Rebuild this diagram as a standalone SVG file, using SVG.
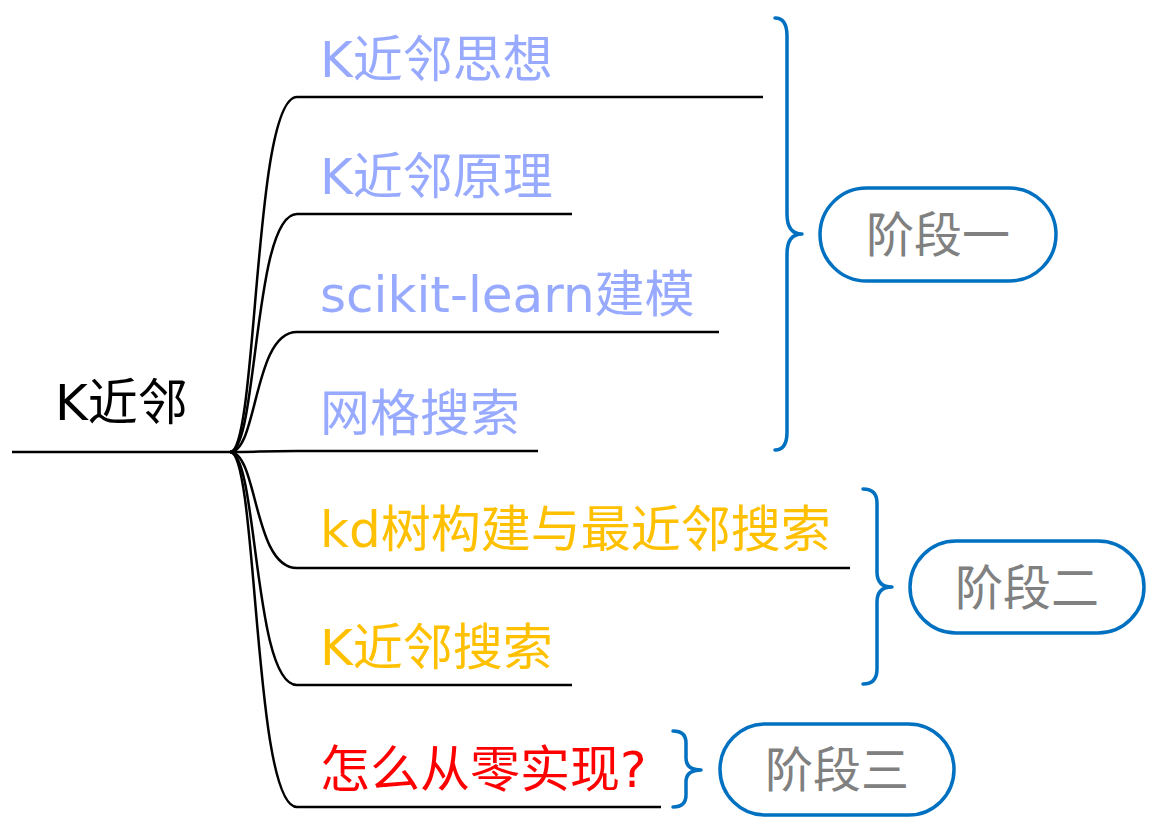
<svg xmlns="http://www.w3.org/2000/svg" width="1156" height="830" viewBox="0 0 1156 830">
<style>
.t{font-family:"DejaVu Sans","Noto Sans CJK SC",sans-serif;font-size:50px}
.blue{fill:#97AAFF}
.yel{fill:#FFC000}
.red{fill:#FF0000}
.root{fill:#000}
.br{fill:none;stroke:#000;stroke-width:2.5}
.brace{fill:none;stroke:#0070C0;stroke-width:3.5;stroke-linecap:round;stroke-linejoin:round}
.pill{fill:#fff;stroke:#0070C0;stroke-width:3.5}
.pt{font-family:"Noto Sans CJK SC",sans-serif;font-size:48px;fill:#808080;text-anchor:middle}
</style>
<rect width="1156" height="830" fill="#fff"/>
<g id="connectors">
<path class="br" d="M12,452 L230,452"/>
<path class="br" d="M230,452 C258,452 253,97 297,97 L763,97"/>
<path class="br" d="M230,452 C258,452 253,214 297,214 L572,214"/>
<path class="br" d="M230,452 C258,452 253,332 297,332 L719,332"/>
<path class="br" d="M230,452 C258,452 262,451 297,451 L538,451"/>
<path class="br" d="M230,452 C258,452 253,568 297,568 L850,568"/>
<path class="br" d="M230,452 C258,452 253,685 297,685 L572,685"/>
<path class="br" d="M230,452 C258,452 253,807 297,807 L661,807"/>
<path class="brace" d="M775,18 Q787,18 787,36 L787,214 Q787,234 802,234 Q787,234 787,254 L787,432 Q787,450 775,450"/>
<path class="brace" d="M863,489 Q877,489 877,503 L877,572 Q877,587 892,587 Q877,587 877,602 L877,669 Q877,684 863,684"/>
<path class="brace" d="M673,731 Q686,731 686,743 L686,758 Q686,770 701,770 Q686,770 686,782 L686,795 Q686,807 673,807"/>
</g>
<g id="root"><text class="t root" x="55" y="420">K近邻</text></g>
<g id="n1"><text class="t blue" x="320" y="77">K近邻思想</text></g>
<g id="n2"><text class="t blue" x="320" y="194">K近邻原理</text></g>
<g id="n3"><text class="t blue" x="320" y="312">scikit-learn建模</text></g>
<g id="n4"><text class="t blue" x="320" y="431">网格搜索</text></g>
<g id="n5"><text class="t yel" x="320" y="547">kd树构建与最近邻搜索</text></g>
<g id="n6"><text class="t yel" x="320" y="665">K近邻搜索</text></g>
<g id="n7"><text class="t red" x="320" y="787">怎么从零实现?</text></g>
<g id="stage1"><rect class="pill" x="820" y="188" width="236" height="93" rx="46.5"/><text class="pt" x="938" y="252">阶段一</text></g>
<g id="stage2"><rect class="pill" x="910" y="541" width="234" height="92" rx="46"/><text class="pt" x="1027" y="605">阶段二</text></g>
<g id="stage3"><rect class="pill" x="720" y="724" width="234" height="91" rx="45.5"/><text class="pt" x="837" y="787">阶段三</text></g>
</svg>
